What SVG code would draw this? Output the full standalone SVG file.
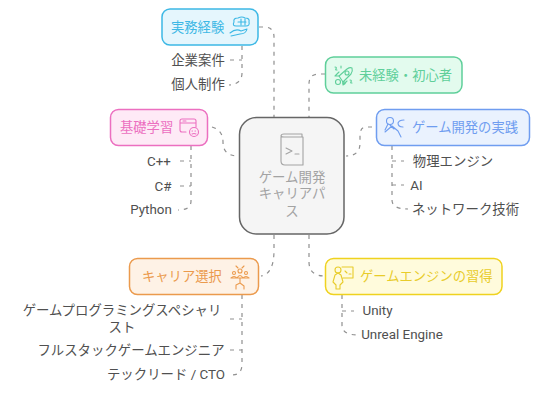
<svg xmlns="http://www.w3.org/2000/svg" width="546" height="400" viewBox="0 0 546 400">
<defs><style>
text{font-family:"Roboto","Noto Sans CJK JP","Noto Sans",sans-serif;font-size:13.4px}
.leaf{fill:#505050;text-anchor:middle}
.lbl{font-size:13.3px}
.c{fill:none;stroke:#8f8f8f;stroke-width:1.2;stroke-dasharray:4 5}
.n{stroke-width:1.5}
.i{fill:none;stroke-width:1.1;stroke-linecap:round;stroke-linejoin:round}
</style></defs>
<rect width="546" height="400" fill="#fff"/>
<g id="connectors" class="conn">
<path class="c" d="M259 27H264Q274 27 274 37V117"/>
<path class="c" d="M325 74H319Q309 74 309 84V117"/>
<path class="c" d="M372 127H366Q360 127 360 136V143Q360 156 346 156"/>
<path class="c" d="M212 127Q223 130 223 142Q223 156 238 156"/>
<path class="c" d="M274 235V250Q274 274 261 276"/>
<path class="c" d="M309 235V262Q309 276 325 276"/>
<path class="c" d="M242 46V73Q242 84 229 85"/>
<path class="c" d="M230 60H242"/>
<path class="c" d="M191 146V201Q191 210 178 210"/>
<path class="c" d="M180 161H191M180 186H191"/>
<path class="c" d="M242 295V364Q242 375 232 375"/>
<path class="c" d="M230 319H242M230 350H242"/>
<path class="c" d="M342 295V325Q342 335 358 335"/>
<path class="c" d="M342 311H354"/>
<path class="c" d="M392 146V200Q392 209 408 209"/>
<path class="c" d="M392 161H404M392 185H404"/>
</g>
<g id="node-center">
<rect x="239.500" y="117.500" width="104.500" height="116.500" rx="17" fill="#f5f5f5" stroke="#666" stroke-width="1.500"/>
<g class="i" stroke="#a3a3a3"><path d="M281 137V161Q281 165 285 165H303V137H284Q281 137 281 136Q281 134 284 134H302V137"/><path d="M286 148L292 151L286 154M295 154H299"/></g>
<text x="292" y="182" text-anchor="middle" fill="#a3a3a3">ゲーム開発</text>
<text x="292" y="198" text-anchor="middle" fill="#a3a3a3">キャリアパ</text>
<text x="292" y="216" text-anchor="middle" fill="#a3a3a3">ス</text>
</g>
<g id="node-jitsumu">
<rect class="n" x="162" y="9" width="96" height="36" rx="8" fill="#e5f6fd" stroke="#3db8e5"/>
<text class="lbl" x="171" y="32" fill="#3db8e5">実務経験</text>
<g class="i" stroke="#3db8e5"><path d="M236 26Q232 26 234 22Q233 18 238 18Q242 16 245 18Q250 18 249 22Q250 26 246 26Z"/><path d="M238 22H246M241 19V25M245 19V25"/><path d="M230 33Q236 28 241 31L247 29Q246 34 240 34L231 36"/></g>
</g>
<g id="node-mikeiken">
<rect class="n" x="325.500" y="57" width="136.500" height="36" rx="8" fill="#e3fbee" stroke="#5fcf9a"/>
<text class="lbl" x="359" y="80" fill="#5fcf9a">未経験・初心者</text>
<g class="i" stroke="#5fcf9a"><path d="M339 76L347 69Q350 67 352 68Q353 71 351 74L343 82Z"/><circle cx="347" cy="73" r="2"/><circle cx="338" cy="82" r="2.500"/><circle cx="344" cy="83" r="1.200"/><path d="M335 67Q337 67 336 69Q335 70 337 70M350 80Q352 80 351 82Q350 83 352 83M341 66V68"/><path d="M339 76H335L339 72M343 82V85L347 81"/></g>
</g>
<g id="node-jissen">
<rect class="n" x="376.500" y="109.500" width="153" height="36" rx="8" fill="#eaf2fe" stroke="#6f9df0"/>
<text class="lbl" x="412" y="132" fill="#6f9df0">ゲーム開発の実践</text>
<g class="i" stroke="#6f9df0"><circle cx="390" cy="121" r="3.500"/><path d="M388 124L385 130M385 132L392 126L398 131L401 137M390 125L394 129"/><path d="M404 120Q399 120 398 123Q398 127 403 127"/></g>
</g>
<g id="node-kiso">
<rect class="n" x="110.500" y="109.500" width="97" height="36" rx="8" fill="#feeaf6" stroke="#ec6fc0"/>
<text class="lbl" x="120" y="132" fill="#ec6fc0">基礎学習</text>
<g class="i" stroke="#ec6fc0"><path d="M186 132H182Q180 132 180 130V121Q180 119 182 119H194Q196 119 196 121V127M180 123H196M183 121H186"/><circle cx="194" cy="132" r="4.500"/><path d="M192 131H192.500M195 131H195.500M192 134Q194 133 196 134"/></g>
</g>
<g id="node-career">
<rect class="n" x="129.500" y="258.500" width="129" height="36" rx="8" fill="#fef2e6" stroke="#eb9a4d"/>
<text class="lbl" x="142" y="281" fill="#eb9a4d">キャリア選択</text>
<g class="i" stroke="#eb9a4d"><circle cx="240" cy="271" r="2"/><circle cx="234" cy="273" r="1.500"/><circle cx="246" cy="273" r="1.500"/><path d="M231 278Q234 275 237 278M243 278Q246 275 249 278M237 278Q240 273 243 278M231 278H249M240 278V283L236 285V289M240 283L244 286V289M236 266L238 268M244 266L242 268"/></g>
</g>
<g id="node-engine">
<rect class="n" x="325.500" y="258.500" width="176.500" height="36" rx="8" fill="#fffbdc" stroke="#efd21f"/>
<text class="lbl" x="360" y="281" fill="#e8cc2a">ゲームエンジンの習得</text>
<g class="i" stroke="#e8cc2a"><circle cx="338" cy="270" r="3"/><path d="M335 275L338 273L341 275L343 282L340 285V289H336V285L333 282ZM342 267H353V278H343M345 271L347 273M349 274H351"/></g>
</g>
<g id="leaves">
<text class="leaf" x="198" y="65">企業案件</text>
<text class="leaf" x="198" y="89">個人制作</text>
<text class="leaf" x="159" y="166">C++</text>
<text class="leaf" x="163" y="191">C#</text>
<text class="leaf" x="151" y="214">Python</text>
<text class="leaf" x="453" y="166">物理エンジン</text>
<text class="leaf" x="416.500" y="190">AI</text>
<text class="leaf" x="465.500" y="214">ネットワーク技術</text>
<text class="leaf" x="122" y="315">ゲームプログラミングスペシャリ</text>
<text class="leaf" x="122" y="332">スト</text>
<text class="leaf" x="131" y="355">フルスタックゲームエンジニア</text>
<text class="leaf" x="166" y="379">テックリード / CTO</text>
<text class="leaf" x="377.500" y="315">Unity</text>
<text class="leaf" x="402" y="339">Unreal Engine</text>
</g>
</svg>
